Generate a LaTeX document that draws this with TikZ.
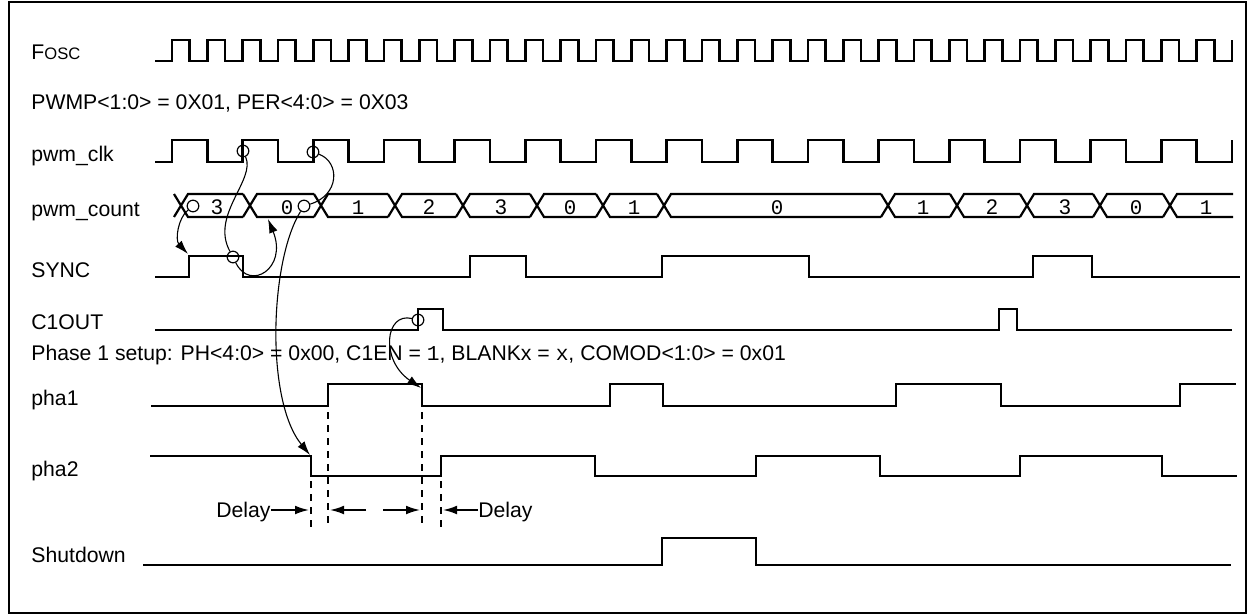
\documentclass[tikz,border=0pt]{standalone}
\usepackage{fontspec}
\setmainfont{Liberation Sans}
\newfontfamily\cour{Liberation Mono}
\usetikzlibrary{arrows.meta}
\begin{document}
\begin{tikzpicture}[x=0.5pt,y=-0.5pt,
  wave/.style={line width=1.25pt, line join=miter},
  bus/.style={line width=1.1pt},
  lbl/.style={anchor=base west, inner sep=0pt, font=\fontsize{10.6}{12}\selectfont},
  dig/.style={anchor=base, inner sep=0pt, font=\fontsize{10.6}{12}\selectfont},
  mdig/.style={anchor=base, inner sep=0pt, font=\cour\fontsize{10.4}{12}\selectfont},
  ring/.style={circle, draw, line width=0.6pt, minimum size=5.8pt, inner sep=0pt},
  note/.style={line width=0.55pt},
  tipped/.style={-{Latex[length=7pt,width=4.4pt]}},
  guide/.style={line width=1pt, dash pattern=on 3.5pt off 3pt},
  delayarrow/.style={line width=0.85pt, -{Latex[length=7pt,width=4.4pt]}}
]
\useasboundingbox (0,0) rectangle (1248,615);
% frame
\draw[line width=1.2pt] (9,2) rectangle (1246,613);

% labels
\node[lbl] (lfosc) at (31,60) {F{\fontsize{8.3}{9}\selectfont OSC}};
\node[lbl] (lpwmp) at (31,110) {PWMP<1:0> = 0X01, PER<4:0> = 0X03};
\node[lbl] (lclk) at (31,162) {pwm\_clk};
\node[lbl] (lcount) at (31,216) {pwm\_count};
\node[lbl] (lsync) at (31,277) {SYNC};
\node[lbl] (lc1out) at (31,329) {C1OUT};
\node[lbl] (lphase) at (31,360) {Phase 1 setup: PH<4:0> = 0x00, C1EN = {\cour 1}, BLANKx = {\cour x}, COMOD<1:0> = 0x01};
\node[lbl] (lpha1) at (31,405) {pha1};
\node[lbl] (lpha2) at (31,476) {pha2};
\node[lbl] (lshut) at (31,562) {Shutdown};

% Fosc
\draw[wave] (155,61) foreach \k in {0,...,29} { -- ({172+35.333*\k},61) -- ({172+35.333*\k},40) -- ({189.667+35.333*\k},40) -- ({189.667+35.333*\k},61) } -- (1232,61) -- (1232,40);

% pwm_clk
\draw[wave] (155,162) foreach \k in {0,...,14} { -- ({172+70.667*\k},162) -- ({172+70.667*\k},140) -- ({207.333+70.667*\k},140) -- ({207.333+70.667*\k},162) } -- (1232,162) -- (1232,140);

% pwm_count bus
\foreach \a/\b in {181/250,250/321,321/395,395/463,463/537,537/603,603/664,664/888,888/957,957/1027,1027/1100,1100/1170,1170/1240} {
  \draw[bus] ({\a-7},194) -- ({\a+7},217) -- ({\b-7},217);
  \draw[bus] ({\a-7},217) -- ({\a+7},194) -- ({\b-7},194);
}
\node[dig]  (v1)  at (217,214) {3};
\node[mdig] (v2)  at (287,214) {0};
\node[mdig] (v3)  at (358,214) {1};
\node[dig]  (v4)  at (429,214) {2};
\node[dig]  (v5)  at (501,214) {3};
\node[mdig] (v6)  at (570,214) {0};
\node[mdig] (v7)  at (634,214) {1};
\node[mdig] (v8)  at (777,214) {0};
\node[mdig] (v9)  at (923,214) {1};
\node[dig]  (v10) at (992,214) {2};
\node[dig]  (v11) at (1065,214) {3};
\node[mdig] (v12) at (1136,214) {0};
\node[mdig] (v13) at (1206,214) {1};

% SYNC
\draw[wave] (155,277) -- (189,277) -- (189,256) -- (243,256) -- (243,277) -- (470,277) -- (470,256) -- (526,256) -- (526,277) -- (662,277) -- (662,256) -- (809,256) -- (809,277) -- (1033,277) -- (1033,256) -- (1092,256) -- (1092,277) -- (1240,277);

% C1OUT
\draw[wave] (155,330) -- (418,330) -- (418,309) -- (443,309) -- (443,330) -- (999,330) -- (999,309) -- (1017,309) -- (1017,330) -- (1232,330);

% pha1
\draw[wave] (151,406) -- (328,406) -- (328,384) -- (422,384) -- (422,406) -- (610,406) -- (610,384) -- (663,384) -- (663,406) -- (896,406) -- (896,384) -- (1001,384) -- (1001,406) -- (1180,406) -- (1180,384) -- (1236,384);

% pha2
\draw[wave] (150,456) -- (311,456) -- (311,476) -- (441,476) -- (441,456) -- (595,456) -- (595,476) -- (756,476) -- (756,456) -- (880,456) -- (880,476) -- (1020,476) -- (1020,456) -- (1162,456) -- (1162,476) -- (1237,476);

% Shutdown
\draw[wave] (143,565) -- (662,565) -- (662,538) -- (756,538) -- (756,565) -- (1231,565);

% dashed guides
\draw[guide] (311,481) -- (311,527);
\draw[guide] (328,412) -- (328,527);
\draw[guide] (422,412) -- (422,527);
\draw[guide] (441,481) -- (441,527);

% delay annotations
\node[lbl, anchor=base east] (d1) at (271,517) {Delay};
\node[lbl] (d2) at (478,517) {Delay};
\coordinate (a1) at (309,510);
\coordinate (a2) at (366,510);
\coordinate (a3) at (330,510);
\coordinate (a4) at (383,510);
\coordinate (a5) at (420,510);
\coordinate (a6) at (443,510);
\draw[delayarrow] (d1.east |- a1) -- (a1);
\draw[delayarrow] (a2) -- (a3);
\draw[delayarrow] (a4) -- (a5);
\draw[delayarrow] (d2.west |- a6) -- (a6);

% event rings
\node[ring] (k1) at (243,151) {};
\node[ring] (k2) at (313,152) {};
\node[ring] (p1) at (193,206) {};
\node[ring] (p2) at (304,206) {};
\node[ring] (s1) at (233,257) {};
\node[ring] (q1) at (418,320) {};
\coordinate (t1) at (188,254);
\coordinate (t2) at (268,219);
\coordinate (t5) at (310,455);
\coordinate (t6) at (421,388);

% causal curves
\draw[note,tipped] (p1) .. controls (178,218) and (175,240) .. (t1);
\draw[note] (k1) .. controls (256,180) and (210,215) .. (s1);
\draw[note,tipped] (s1) .. controls (250,292) and (288,268) .. (t2);
\draw[note] (k2) .. controls (340,162) and (340,195) .. (p2);
\draw[note,tipped] (p2) .. controls (270,260) and (265,400) .. (t5);
\draw[note,tipped] (q1) .. controls (385,312) and (380,360) .. (t6);
\end{tikzpicture}
\end{document}
